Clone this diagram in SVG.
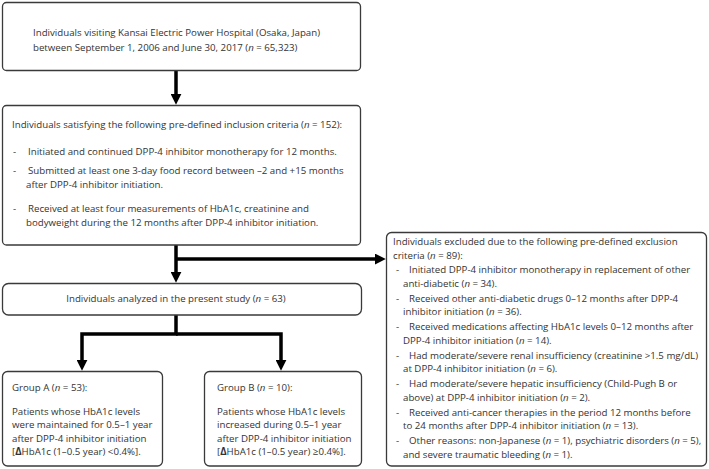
<svg xmlns="http://www.w3.org/2000/svg" width="709" height="469" viewBox="0 0 709 469">
<style>
.box{fill:#fff;stroke:#3a3a3a;stroke-width:1.3}
text{font-family:"Open Sans","Noto Sans",sans-serif;font-size:9.7px;fill:#333}
.i{font-style:italic}
.c{stroke:#000;stroke-width:3.5;fill:none}
</style>
<defs>
<marker id="ah" viewBox="0 0 10 10" markerUnits="userSpaceOnUse" markerWidth="11" markerHeight="11" refX="2" refY="5" orient="auto">
<path d="M0,0 L10,5 L0,10 z" fill="#000"/>
</marker>
</defs>
<rect width="709" height="469" fill="#fff"/>
<g id="connectors">
<path class="c" d="M176,71 V96" marker-end="url(#ah)"/>
<path class="c" d="M176,245 V274" marker-end="url(#ah)"/>
<path class="c" d="M176,259 H377" marker-end="url(#ah)"/>
<path class="c" d="M176,315 V334 H82 V362" marker-end="url(#ah)"/>
<path class="c" d="M176,334 H281 V362" marker-end="url(#ah)"/>
</g>
<g id="n_visiting">
<rect class="box" x="2.5" y="2.5" width="358" height="68" rx="4"/>
<text x="33" y="36">Individuals visiting Kansai Electric Power Hospital (Osaka, Japan)</text>
<text x="33" y="51">between September 1, 2006 and June 30, 2017 (<tspan class="i">n</tspan> = 65,323)</text>
</g>
<g id="n_inclusion">
<rect class="box" x="2.5" y="105.5" width="358" height="139.5" rx="4"/>
<text x="12" y="128">Individuals satisfying the following pre-defined inclusion criteria (<tspan class="i">n</tspan> = 152):</text>
<text x="13" y="155">-</text><text x="28" y="155">Initiated and continued DPP-4 inhibitor monotherapy for 12 months.</text>
<text x="13" y="174">-</text><text x="28" y="174">Submitted at least one 3-day food record between –2 and +15 months</text>
<text x="26" y="188">after DPP-4 inhibitor initiation.</text>
<text x="13" y="212">-</text><text x="28" y="212">Received at least four measurements of HbA1c, creatinine and</text>
<text x="26" y="226">bodyweight during the 12 months after DPP-4 inhibitor initiation.</text>
</g>
<g id="n_analyzed">
<rect class="box" x="2.5" y="283.5" width="359" height="31.5" rx="6"/>
<text x="176" y="302" text-anchor="middle">Individuals analyzed in the present study (<tspan class="i">n</tspan> = 63)</text>
</g>
<g id="n_groupA">
<rect class="box" x="2.5" y="371.5" width="160" height="94.5" rx="5"/>
<text x="12" y="391">Group A (<tspan class="i">n</tspan> = 53):</text>
<text x="12" y="415">Patients whose HbA1c levels</text>
<text x="12" y="428">were maintained for 0.5–1 year</text>
<text x="12" y="442">after DPP-4 inhibitor initiation</text>
<text x="12" y="455">[<tspan font-weight="bold">Δ</tspan>HbA1c (1–0.5 year) &lt;0.4%].</text>
</g>
<g id="n_groupB">
<rect class="box" x="204.5" y="371.5" width="157" height="94.5" rx="5"/>
<text x="217" y="391">Group B (<tspan class="i">n</tspan> = 10):</text>
<text x="217" y="415">Patients whose HbA1c levels</text>
<text x="217" y="428">increased during 0.5–1 year</text>
<text x="217" y="442">after DPP-4 inhibitor initiation</text>
<text x="217" y="455">[<tspan font-weight="bold">Δ</tspan>HbA1c (1–0.5 year) ≥0.4%].</text>
</g>
<g id="n_excluded">
<rect class="box" x="386.5" y="232.5" width="320" height="233.5" rx="5"/>
<text x="393" y="245">Individuals excluded due to the following pre-defined exclusion</text>
<text x="393" y="259">criteria (<tspan class="i">n</tspan> = 89):</text>
<text x="396" y="273">-</text><text x="409" y="273">Initiated DPP-4 inhibitor monotherapy in replacement of other</text>
<text x="403" y="286.5">anti-diabetic (<tspan class="i">n</tspan> = 34).</text>
<text x="396" y="301.5">-</text><text x="409" y="301.5">Received other anti-diabetic drugs 0–12 months after DPP-4</text>
<text x="403" y="315">inhibitor initiation (<tspan class="i">n</tspan> = 36).</text>
<text x="396" y="330">-</text><text x="409" y="330">Received medications affecting HbA1c levels 0–12 months after</text>
<text x="403" y="343.5">DPP-4 inhibitor initiation (<tspan class="i">n</tspan> = 14).</text>
<text x="396" y="358.5">-</text><text x="409" y="358.5">Had moderate/severe renal insufficiency (creatinine &gt;1.5 mg/dL)</text>
<text x="403" y="372">at DPP-4 inhibitor initiation (<tspan class="i">n</tspan> = 6).</text>
<text x="396" y="387">-</text><text x="409" y="387">Had moderate/severe hepatic insufficiency (Child-Pugh B or</text>
<text x="403" y="400.5">above) at DPP-4 inhibitor initiation (<tspan class="i">n</tspan> = 2).</text>
<text x="396" y="415.5">-</text><text x="409" y="415.5">Received anti-cancer therapies in the period 12 months before</text>
<text x="403" y="429">to 24 months after DPP-4 inhibitor initiation (<tspan class="i">n</tspan> = 13).</text>
<text x="396" y="444">-</text><text x="409" y="444">Other reasons: non-Japanese (<tspan class="i">n</tspan> = 1), psychiatric disorders (<tspan class="i">n</tspan> = 5),</text>
<text x="403" y="457.5">and severe traumatic bleeding (<tspan class="i">n</tspan> = 1).</text>
</g>
</svg>
